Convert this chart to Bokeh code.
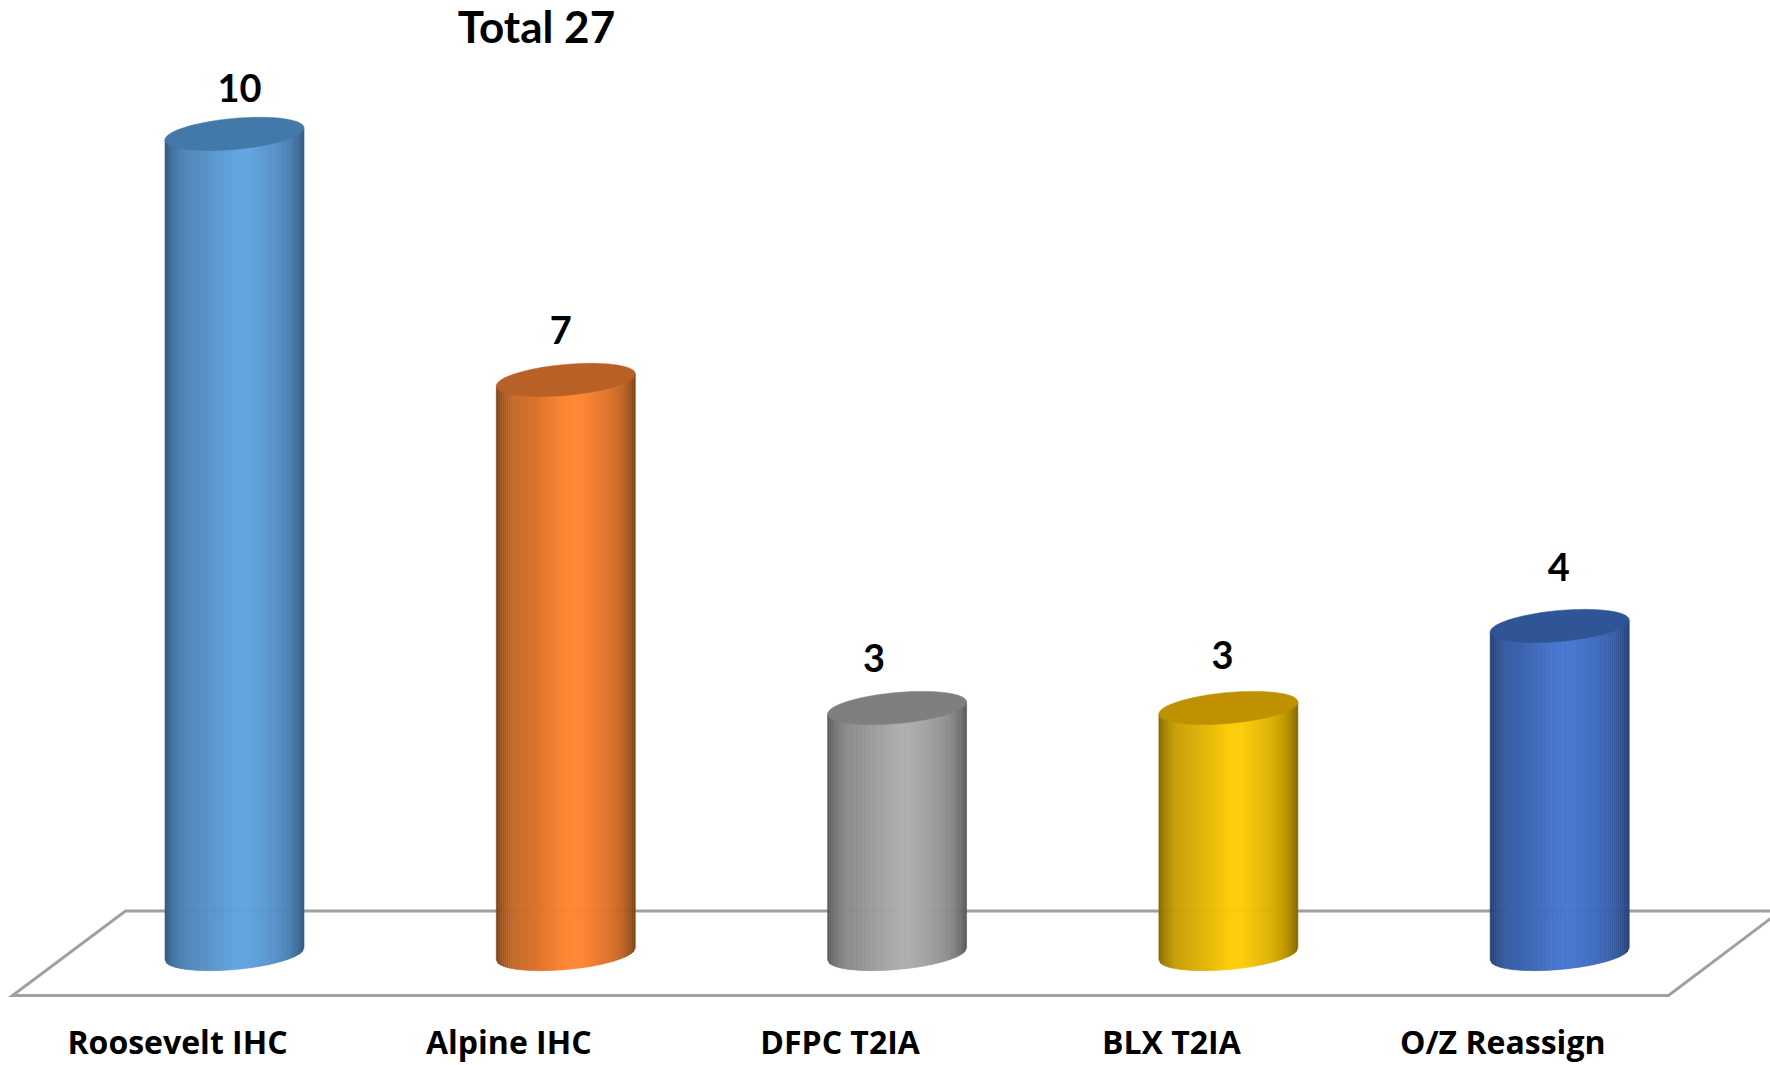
import numpy as np
from bokeh.embed import file_html
from bokeh.resources import INLINE
from bokeh.plotting import figure
from bokeh.models import FixedTicker, Range1d, ColumnDataSource
from bokeh.core.properties import value

categories = ["Roosevelt IHC", "Alpine IHC", "DFPC T2IA", "BLX T2IA", "O/Z Reassign"]
counts = [10, 7, 3, 3, 4]
total_label = "Total 27"

# per-bar colour styling: cap, edge, bright centre
cap_colors = ["#4379A9", "#B86126", "#7F7F7F", "#BF9000", "#2F5597"]
edge_colors = ["#345B82", "#7F441A", "#5A5A5A", "#846800", "#254070"]
mid_colors = ["#5FA4E2", "#FF8633", "#AEAEAE", "#FFCC00", "#4776CE"]

# layout (page pixels)
W, H = 1770, 1065
FRAME_BOTTOM = 1000
UNIT_X, X0 = 331.3, 177.0      # px per category, px of first category
UNIT_Y, Y0 = 82.1, 954.5       # px per count, px of count 0
BAR_SHIFT = 57.0 / UNIT_X
HALF_W = 69.5 / UNIT_X
CAP_B = 15.5 / UNIT_Y
CAP_S = 6.0 / UNIT_Y


def X(px):
    return (px - X0) / UNIT_X


def Y(px):
    return (Y0 - px) / UNIT_Y


p = figure(width=W, height=H, output_backend="svg", toolbar_location=None,
           x_range=Range1d(X(0), X(W)),
           y_range=Range1d(Y(FRAME_BOTTOM), Y(0)),
           y_axis_location=None, min_border_left=0, min_border_right=0,
           min_border_top=0, min_border_bottom=H - FRAME_BOTTOM,
           background_fill_color="white", border_fill_color="white")
p.outline_line_color = None
p.grid.visible = False

# floor
floor_color = "#A0A0A0"
p.line(x=[X(1770), X(125), X(12), X(1668), X(1770)],
       y=[Y(911.5), Y(911.5), Y(996), Y(996), Y(919)],
       line_color=floor_color, line_width=3, line_join="miter")


def rgb(h):
    return np.array([int(h[i:i + 2], 16) for i in (1, 3, 5)], dtype=float)


def shade(t, edge, mid):
    e, m = rgb(edge), rgb(mid)
    stops_t = [0.0, 0.05, 0.12, 0.3, 0.52, 0.6, 0.8, 0.9, 0.96, 1.0]
    stops_k = [0.0, 0.3, 0.55, 0.74, 1.0, 1.0, 0.74, 0.52, 0.25, 0.0]
    k = np.interp(t, stops_t, stops_k)
    c = e + (m - e) * k
    return "#%02x%02x%02x" % tuple(int(round(v)) for v in c)


N = 70
strip_xs, strip_ys, strip_cols = [], [], []
cap_xs, cap_ys = [], []
for i, v in enumerate(counts):
    cx = i + BAR_SHIFT
    edges = np.linspace(-1, 1, N + 1)
    for a, b in zip(edges[:-1], edges[1:]):
        low_a = -CAP_B * np.sqrt(1 - a * a) + CAP_S * a
        low_b = -CAP_B * np.sqrt(1 - b * b) + CAP_S * b
        strip_xs.append([cx + a * HALF_W, cx + b * HALF_W, cx + b * HALF_W, cx + a * HALF_W])
        strip_ys.append([low_a, low_b, v + CAP_S * b, v + CAP_S * a])
        strip_cols.append(shade((a + b + 2) / 4, edge_colors[i], mid_colors[i]))
    th = np.linspace(0, 2 * np.pi, 121)
    cap_xs.append(list(cx + HALF_W * np.cos(th)))
    cap_ys.append(list(v + CAP_S * np.cos(th) + CAP_B * np.sin(th)))

p.patches(xs=strip_xs, ys=strip_ys, fill_color=strip_cols, line_color=strip_cols, line_width=0.6)
p.patches(xs=cap_xs, ys=cap_ys, fill_color=cap_colors, line_color=cap_colors, line_width=0.5)

# value labels
label_dx = [5, -5, -23, -6, -1]
label_dy = [46, 50, 50, 53, 59]
src = ColumnDataSource(data=dict(
    x=[i + BAR_SHIFT + dx / UNIT_X for i, dx in enumerate(label_dx)],
    y=[v + dy / UNIT_Y for v, dy in zip(counts, label_dy)],
    t=[str(v) for v in counts]))
p.text(x="x", y="y", text="t", source=src, text_align="center", text_baseline="middle",
       text_font=value("Lato"), text_font_style="bold", text_font_size="38px", text_color="#000000")
p.text(x=[X(536)], y=[Y(26)], text=[total_label], text_align="center", text_baseline="middle",
       text_font=value("Lato"), text_font_style="bold", text_font_size="44px", text_color="#000000")

# category axis
ax = p.xaxis[0]
ax.ticker = FixedTicker(ticks=list(range(len(categories))))
ax.major_label_overrides = {i: c for i, c in enumerate(categories)}
ax.axis_line_color = None
ax.major_tick_line_color = None
ax.minor_tick_line_color = None
ax.major_label_standoff = 14
ax.major_label_text_font = "Open Sans"
ax.major_label_text_font_style = "bold"
ax.major_label_text_font_size = "32px"
ax.major_label_text_color = "#000000"

open("out.html", "w").write(file_html(p, INLINE))
